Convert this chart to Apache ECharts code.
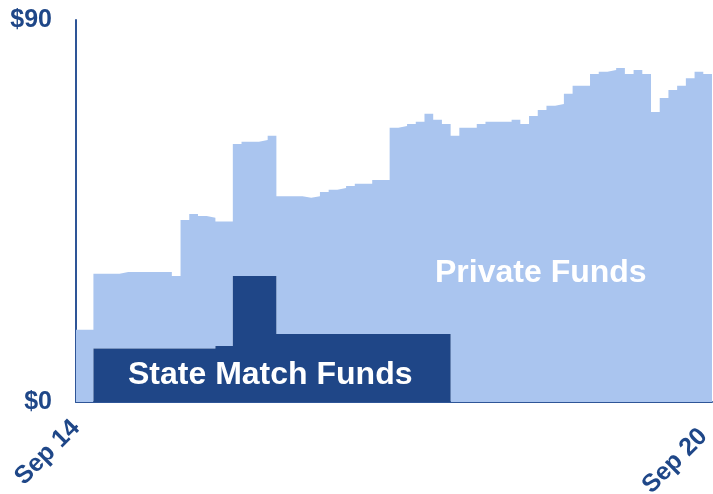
<!DOCTYPE html>
<html>
<head>
<meta charset="utf-8">
<script src="https://cdn.jsdelivr.net/npm/echarts@6/dist/echarts.min.js"></script>
<style>
html,body{margin:0;padding:0;background:#fff;}
#chart{width:713px;height:494px;}
</style>
</head>
<body>
<div id="chart"></div>
<script>
// Monthly index 0 = Sep 2014 ... 72 = Sep 2020 ($ millions)
var stateMatch = [
  0, 0,
  12.6, 12.6, 12.6, 12.6, 12.6, 12.6, 12.6, 12.6, 12.6, 12.6, 12.6, 12.6, 12.6, 12.6,
  13.2, 13.2,
  29.7, 29.7, 29.7, 29.7, 29.7,
  16, 16, 16, 16, 16, 16, 16, 16, 16, 16, 16, 16, 16, 16, 16, 16, 16, 16, 16, 16,
  0, 0, 0, 0, 0, 0, 0, 0, 0, 0, 0, 0, 0, 0, 0, 0, 0, 0, 0, 0, 0, 0, 0, 0, 0, 0, 0, 0, 0, 0
];
var privateFunds = [
  17.0, 17.0,
  17.6, 17.6, 17.6,
  18.0, 18.0, 18.0, 18.0, 18.0, 18.0,
  17.1,
  30.3, 31.7, 31.2, 30.8,
  29.3, 29.3,
  31.1, 31.6, 31.6, 32.0, 33.0,
  32.5, 32.5, 32.5, 32.1, 32.5, 33.5, 34.0, 34.4, 34.9, 35.4, 35.4, 36.3, 36.3,
  48.6, 49.0, 49.5, 50.0, 51.9, 50.5, 49.5,
  62.7, 64.6, 64.6, 65.5, 66.0, 66.0, 66.0, 66.5, 65.5,
  67.4, 68.8, 69.8, 70.2, 72.6, 74.5, 74.5,
  77.3, 77.8, 78.2, 78.7, 77.3, 78.2, 77.3,
  68.3, 71.6, 73.5, 74.5, 76.3, 77.8, 77.3
];
var xTickIndex = [0, 73];
var xTickLabels = ['Sep 14', 'Sep 20'];
var yTickValues = [0, 90];
var yTickLabels = ['$0', '$90'];
var seriesNames = ['State Match Funds', 'Private Funds'];

// category boundaries: one per month edge (73 months -> 74 edges)
var categories = [];
for (var i = 0; i <= stateMatch.length; i++) categories.push(String(i));
function closeStep(arr) { return arr.concat([arr[arr.length - 1]]); }

var navy = '#1F4687';
var light = '#AAC5EF';
var labelColor = '#1F4788';

var chart = echarts.init(document.getElementById('chart'), null, {renderer: 'canvas'});
chart.setOption({
  animation: false,
  backgroundColor: '#ffffff',
  grid: {left: 76, right: 1, top: 20, bottom: 92, containLabel: false, outerBoundsMode: 'none'},
  xAxis: {
    type: 'category',
    data: categories,
    boundaryGap: false,
    splitLine: {show: false},
    axisTick: {show: false},
    axisLine: {show: true, onZero: false, lineStyle: {color: '#2E5597', width: 2}},
    axisLabel: {
      rotate: 45,
      margin: 22,
      color: labelColor,
      fontFamily: 'Liberation Sans, Arial, sans-serif',
      fontWeight: 'bold',
      fontSize: 25,
      interval: function (idx) { return xTickIndex.indexOf(idx) >= 0; },
      formatter: function (v, idx) {
        var k = xTickIndex.indexOf(idx);
        if (k < 0) return '';
        return k === xTickIndex.length - 1 ? '{last|' + xTickLabels[k] + '}' : xTickLabels[k];
      },
      rich: {
        last: {
          color: labelColor,
          fontFamily: 'Liberation Sans, Arial, sans-serif',
          fontWeight: 'bold',
          fontSize: 25,
          padding: [0, 12, 0, 0]
        }
      }
    }
  },
  yAxis: {
    type: 'value',
    min: yTickValues[0],
    max: yTickValues[1],
    interval: yTickValues[1] - yTickValues[0],
    splitLine: {show: false},
    axisTick: {show: false},
    axisLine: {show: true, lineStyle: {color: '#2E5597', width: 2}},
    axisLabel: {
      margin: 24,
      color: labelColor,
      fontFamily: 'Liberation Sans, Arial, sans-serif',
      fontWeight: 'bold',
      fontSize: 25,
      formatter: function (v) { var k = yTickValues.indexOf(v); return k >= 0 ? yTickLabels[k] : ''; }
    }
  },
  series: [
    {
      name: seriesNames[0],
      type: 'line',
      stack: 'total',
      step: 'end',
      showSymbol: false,
      lineStyle: {width: 0},
      areaStyle: {color: navy, opacity: 1},
      z: 3,
      data: closeStep(stateMatch)
    },
    {
      name: seriesNames[1],
      type: 'line',
      stack: 'total',
      step: 'end',
      showSymbol: false,
      lineStyle: {width: 0},
      areaStyle: {color: light, opacity: 1},
      z: 2,
      data: closeStep(privateFunds)
    }
  ],
  graphic: [
    {
      type: 'text', left: 128, top: 359, z: 10,
      style: {text: seriesNames[0], fill: '#ffffff', font: 'bold 32px "Liberation Sans", Arial, sans-serif'}
    },
    {
      type: 'text', left: 435, top: 257, z: 10,
      style: {text: seriesNames[1], fill: '#ffffff', font: 'bold 32px "Liberation Sans", Arial, sans-serif'}
    }
  ]
});
</script>
</body>
</html>
